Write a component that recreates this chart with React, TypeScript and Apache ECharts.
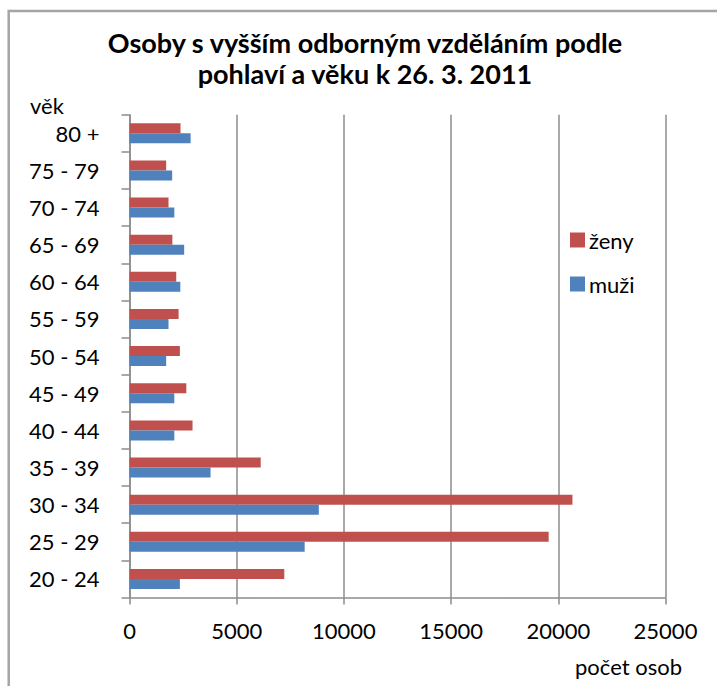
import React, { useEffect, useRef } from "react";
import * as echarts from "echarts";

const categories = ["20 - 24", "25 - 29", "30 - 34", "35 - 39", "40 - 44", "45 - 49", "50 - 54", "55 - 59", "60 - 64", "65 - 69", "70 - 74", "75 - 79", "80 +"];
const zeny = [7220, 19550, 20660, 6120, 2940, 2650, 2350, 2290, 2180, 2000, 1820, 1710, 2380];
const muzi = [2350, 8170, 8830, 3780, 2090, 2090, 1710, 1820, 2370, 2550, 2090, 1990, 2850];
const titleLines = ["Osoby s vyšším odborným vzděláním podle", "pohlaví a věku k 26. 3. 2011"];

const FONT = "Lato";
const GRAY = "#8c8c8c";

export default function App() {
  const ref = useRef<HTMLDivElement>(null);
  useEffect(() => {
    if (!ref.current) return;
    const chart = echarts.init(ref.current, undefined, { renderer: "svg" });
    chart.setOption({
      animation: false,
      backgroundColor: "#ffffff",
      textStyle: { fontFamily: FONT },
      title: {
        text: titleLines.join("\n"),
        left: 360,
        textAlign: "center",
        top: 22,
        textStyle: { fontFamily: FONT, fontSize: 27, fontWeight: "bold", color: "#000", lineHeight: 31 },
      },
      legend: {
        orient: "vertical",
        left: 565,
        top: 224,
        itemWidth: 15,
        itemHeight: 15,
        itemGap: 22,
        icon: "rect",
        data: ["ženy", "muži"],
        textStyle: { fontFamily: FONT, fontSize: 22, color: "#000", padding: [0, 0, 0, -1] },
      },
      grid: { left: 129.5, right: 51.5, top: 114.7, bottom: 88.5, outerBoundsMode: "none" },
      xAxis: {
        type: "value",
        min: 0,
        max: 25000,
        interval: 5000,
        axisLine: { show: true, lineStyle: { color: GRAY, width: 1.5 } },
        axisTick: { show: true, length: 7, lineStyle: { color: GRAY, width: 1.5 } },
        splitLine: { show: true, lineStyle: { color: GRAY, width: 1.5 } },
        axisLabel: { fontFamily: FONT, fontSize: 22, color: "#000", margin: 22, formatter: (v: number) => String(v) },
      },
      yAxis: {
        type: "category",
        data: categories,
        axisLine: { show: true, lineStyle: { color: GRAY, width: 1.5 } },
        axisTick: { show: true, length: 8, alignWithLabel: false, lineStyle: { color: GRAY, width: 1.5 } },
        splitLine: { show: false },
        axisLabel: { fontFamily: FONT, fontSize: 22, color: "#000", margin: 30 },
      },
      series: [
        { name: "ženy", type: "bar", data: zeny, barWidth: 10, barGap: "0%", itemStyle: { color: "#C0504D" } },
        { name: "muži", type: "bar", data: muzi, barWidth: 10, barGap: "0%", itemStyle: { color: "#4F81BD" } },
      ],
      graphic: [
        {
          type: "rect",
          z: -10,
          shape: { x: 8.7, y: 11, width: 900, height: 900 },
          style: { fill: "none", stroke: "#a5a5a5", lineWidth: 2.5 },
          silent: true,
        },
        {
          type: "text",
          left: 30,
          top: 94,
          style: { text: "věk", fontFamily: FONT, fontSize: 22, fill: "#000" },
        },
        {
          type: "text",
          right: 35,
          top: 655,
          style: { text: "počet osob", fontFamily: FONT, fontSize: 22, fill: "#000" },
        },
      ],
    });
    return () => chart.dispose();
  }, []);
  return <div ref={ref} style={{ position: "fixed", left: 0, top: 0, width: 717, height: 686 }} />;
}
